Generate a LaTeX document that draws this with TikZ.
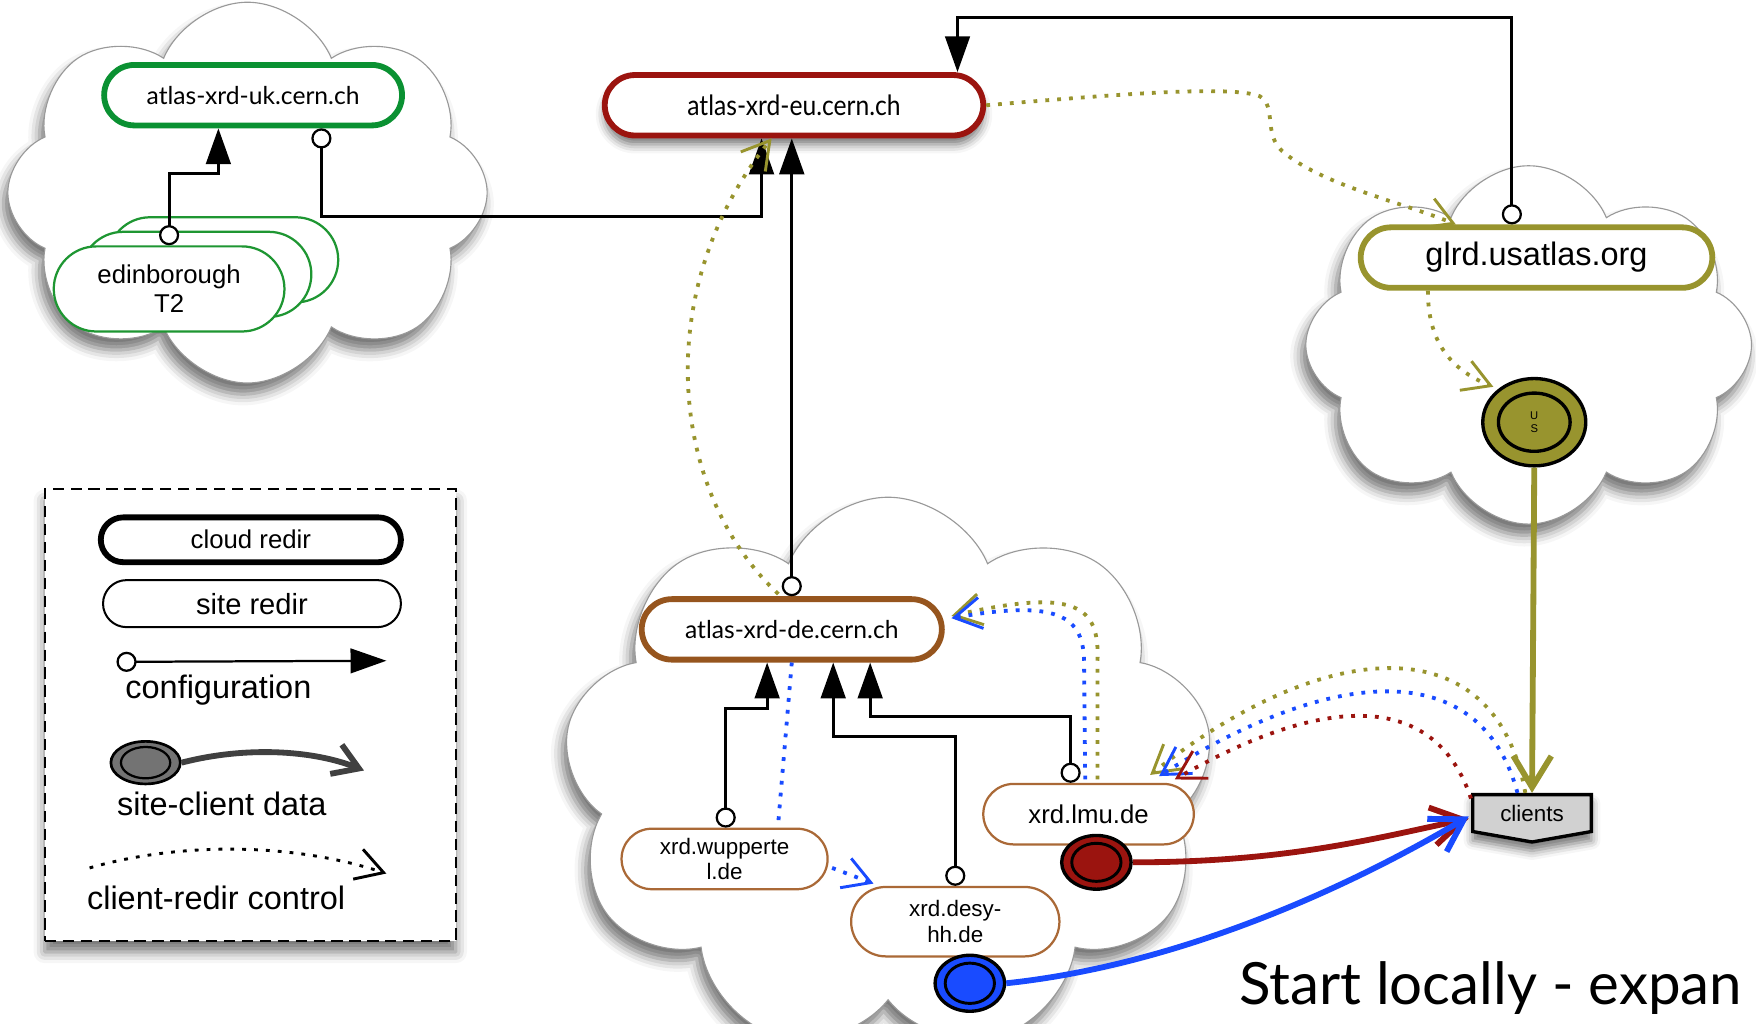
\documentclass[tikz,border=0pt]{standalone}
\usepackage{fontspec}
\setmainfont{Liberation Sans}
\newfontfamily\gill{Lato}
\usetikzlibrary{shapes.misc,shapes.symbols,shapes.geometric,arrows.meta,calc,shadows.blur}
\definecolor{ukgreen}{RGB}{10,145,50}
\definecolor{edgreen}{RGB}{30,150,50}
\definecolor{eured}{RGB}{155,20,15}
\definecolor{myolive}{RGB}{152,148,46}
\definecolor{debrown}{RGB}{150,85,30}
\definecolor{sitebrown}{RGB}{170,105,55}
\definecolor{myblue}{RGB}{25,75,255}
\begin{document}
\begin{tikzpicture}[x=0.5pt,y=-0.5pt,
  cloudbg/.style={cloud, cloud puffs=#1, cloud puff arc=135, cloud ignores aspect, draw=black!40, line width=0.5pt, fill=white, inner sep=0pt,
     blur shadow={shadow xshift=-2pt, shadow yshift=-5pt, shadow blur radius=5pt, shadow opacity=55}},
  credir/.style={rounded rectangle, draw=#1, line width=2.6pt, fill=white, inner sep=0pt, minimum height=27pt, font=\gill\fontsize{11}{13}\selectfont},
  sredir/.style={rounded rectangle, draw=#1, line width=1pt, fill=white, inner sep=0pt, minimum height=27pt, align=center, font=\fontsize{10}{11.5}\selectfont},
  config/.style={line width=1.3pt, {Circle[fill=white,length=9pt,width=9pt,line width=1pt]}-{Triangle[length=16pt,width=11pt]}},
  ctrl/.style={line width=1.7pt, dash pattern=on 1.7pt off 3.6pt, -{Straight Barb[length=12pt,width=14pt,line width=1.3pt]}},
  data/.style={line width=2.6pt, -{Straight Barb[length=14pt,width=17pt]}},
  src/.style={ellipse, draw, line width=1.5pt, fill=#1, inner sep=0pt},
  lgtext/.style={font=\fontsize{14.5}{16}\selectfont, inner sep=0pt}
]
\useasboundingbox (0,0) rectangle (1568,914);

% clouds
\node[cloudbg=8, minimum width=214pt, minimum height=170pt] (ukcloud) at (221,172) {};
\node[cloudbg=8, minimum width=199pt, minimum height=160pt] (uscloud) at (1365,308) {};
\node[cloudbg=9, minimum width=290pt, minimum height=248pt] (decloud) at (793,692) {};

% legend
\node[draw, dash pattern=on 5pt off 3pt, line width=0.8pt, fill=white, minimum width=183.5pt, minimum height=201.5pt,
   blur shadow={shadow xshift=0pt, shadow yshift=-5pt, shadow blur radius=5pt, shadow opacity=55}] (legend) at (223.5,638.5) {};
\node[rounded rectangle, draw, line width=2.6pt, fill=white, minimum width=134pt, minimum height=20pt, inner sep=0pt, font=\fontsize{11.5}{13}\selectfont] (lgcloud) at (224,482) {cloud redir};
\node[rounded rectangle, draw, line width=0.9pt, fill=white, minimum width=133pt, minimum height=21pt, inner sep=0pt, font=\fontsize{13}{15}\selectfont] (lgsite) at (225,539) {site redir};
\coordinate (lgc1) at (104,591);
\coordinate (lgc2) at (345,590);
\draw[config, line width=1pt] (lgc1) -- (lgc2);
\node[lgtext] (lgconfig) at (195,616) {configuration};
\node[src=black!55, line width=1.2pt, minimum width=31pt, minimum height=19pt] (lgsrc) at (130,681) {};
\node[ellipse, draw, line width=1pt, minimum width=22pt, minimum height=14pt, inner sep=0pt] (lgsrcin) at (lgsrc) {};
\coordinate (lgd) at (325,688);
\draw[black!75, line width=2.6pt, -{Straight Barb[length=11pt,width=14pt]}] (lgsrc.east) .. controls (220,666) and (280,670) .. (lgd);
\node[lgtext] (lgdata) at (198,718) {site-client data};
\coordinate (lgr1) at (80,775);
\coordinate (lgr2) at (345,780);
\draw[ctrl, black, line width=1.3pt] (lgr1) .. controls (160,752) and (260,752) .. (lgr2);
\node[lgtext] (lgctrl) at (193,802) {client-redir control};

% cloud redirectors
\node[credir=ukgreen, minimum width=133pt] (uk) at (226,85) {atlas-xrd-uk.cern.ch};
\node[credir=eured, minimum width=169pt, font=\gill\fontsize{12.5}{14}\selectfont\addfontfeature{FakeStretch=0.88},
   blur shadow={shadow xshift=0pt, shadow yshift=-4pt, shadow blur radius=4pt, shadow opacity=55}] (eu) at (709,94) {atlas-xrd-eu.cern.ch};
\node[credir=debrown, minimum width=134pt] (de) at (707,562) {atlas-xrd-de.cern.ch};
\node[credir=myolive, minimum width=157pt, font=\fontsize{14.5}{16}\selectfont] (glrd) at (1372,230) {glrd.usatlas.org};

% site redirectors
\node[sredir=edgreen, minimum width=103pt, minimum height=38pt] (ed3) at (199,232) {};
\node[sredir=edgreen, minimum width=103pt, minimum height=38pt] (ed2) at (175,245) {};
\node[sredir=edgreen, minimum width=103pt, minimum height=38pt, font=\fontsize{11.5}{13}\selectfont] (ed1) at (151,258) {edinborough\\T2};
\node[sredir=sitebrown, minimum width=92pt] (wupp) at (647,767) {xrd.wupperte\\l.de};
\node[sredir=sitebrown, minimum width=93pt, minimum height=31pt] (desy) at (853,823) {xrd.desy-\\hh.de};
\node[sredir=sitebrown, minimum width=94pt, font=\fontsize{11.5}{13}\selectfont] (lmu) at (972,727) {xrd.lmu.de};

% data sources
\node[src=myolive, minimum width=46pt, minimum height=39pt] (us) at (1370,377) {};
\node[ellipse, draw, line width=1.5pt, minimum width=32pt, minimum height=26pt, inner sep=0pt, align=center, font=\fontsize{5}{5.5}\selectfont] (usin) at (us) {U\\S};
\node[src=eured, minimum width=31pt, minimum height=24pt] (redsrc) at (979,770) {};
\node[ellipse, draw, line width=1.3pt, minimum width=22pt, minimum height=17pt, inner sep=0pt] (redin) at (redsrc) {};
\node[src=myblue, minimum width=31pt, minimum height=25pt] (bluesrc) at (866,878) {};
\node[ellipse, draw, line width=1.3pt, minimum width=22pt, minimum height=18pt, inner sep=0pt] (bluein) at (bluesrc) {};

% clients
\node[signal, signal to=south, signal from=nowhere, signal pointer angle=160, draw, line width=1.5pt, fill=black!18, minimum width=53pt, minimum height=19pt, inner sep=0pt,
  font=\fontsize{10}{12}\selectfont, blur shadow={shadow xshift=0pt, shadow yshift=-4pt, shadow blur radius=4pt, shadow opacity=55}] (clients) at (1368,726) {clients};

% configuration connectors
\coordinate (k1) at (287,193);
\coordinate (k2) at (680,193);
\draw[config] (uk.south -| k1) -- (k1) -- (k2) -- (eu.south -| k2);
\coordinate (k3) at (151,155);
\coordinate (k4) at (195,155);
\draw[config] (ed1.north) -- (k3) -- (k4) -- (uk.south -| k4);
\coordinate (k5) at (1350,16);
\coordinate (k6) at (855,16);
\draw[config] (glrd.north -| k5) -- (k5) -- (k6) -- (eu.north -| k6);
\draw[config] (de.north) -- (eu.south -| de.north);
\coordinate (k7) at (648,633);
\coordinate (k8) at (685,633);
\draw[config] (wupp.north -| k7) -- (k7) -- (k8) -- (de.south -| k8);
\coordinate (k9) at (853,658);
\coordinate (k10) at (744,658);
\draw[config] (desy.north -| k9) -- (k9) -- (k10) -- (de.south -| k10);
\coordinate (k11) at (956,640);
\coordinate (k12) at (777,640);
\draw[config] (lmu.north -| k11) -- (k11) -- (k12) -- (de.south -| k12);

% client-redir control
\draw[ctrl, myolive] (eu.east) .. controls (1000,84) and (1100,76) .. (1125,86) .. controls (1140,95) and (1128,120) .. (1145,135) .. controls (1180,165) and (1250,180) .. ($(glrd.north)+(-72,0)$);
\draw[ctrl, myolive] ($(glrd.south)+(-97,0)$) .. controls (1275,305) and (1295,330) .. ($(us.north west)+(-3,-3)$);
\draw[ctrl, myolive] ($(de.north)+(-12,-2)$) .. controls (598,440) and (580,260) .. ($(eu.south)+(-20,0)$);
\draw[ctrl, myolive] ($(lmu.north)+(8,-3)$) -- (980,590) .. controls (982,540) and (960,525) .. ($(de.east)+(6,-12)$);
\draw[ctrl, myblue] ($(lmu.north)+(-3,-3)$) -- (968,592) .. controls (968,550) and (945,535) .. ($(de.east)+(6,-10)$);
\draw[ctrl, myblue, -] (de.south) -- ($(wupp.north)+(48,-5)$);
\draw[ctrl, myblue] ($(wupp.east)+(3,8)$) -- ($(desy.north)+(-73,-2)$);
\draw[ctrl, myolive] ($(clients.north)+(-6,0)$) .. controls (1335,555) and (1180,570) .. ($(lmu.north east)+(-12,-7)$);
\draw[ctrl, myblue] ($(clients.north)+(-13,0)$) .. controls (1322,585) and (1190,595) .. ($(lmu.north east)+(-4,-6)$);
\draw[ctrl, eured] ($(clients.north west)+(0,5)$) .. controls (1282,618) and (1185,618) .. ($(lmu.north east)+(10,-3)$);

% site-client data
\draw[data, myolive] (us.south) -- (clients.north);
\draw[data, eured] (redsrc.east) .. controls (1150,770) and (1230,748) .. ($(clients.west)+(-2,5)$);
\draw[data, myblue] (bluesrc.east) .. controls (1050,862) and (1200,795) .. ($(clients.west)+(-2,3)$);

\node[anchor=base west, inner sep=0pt, font=\gill\fontsize{26}{29}\selectfont] (start) at (1106,897) {Start locally - expan};
\end{tikzpicture}
\end{document}
